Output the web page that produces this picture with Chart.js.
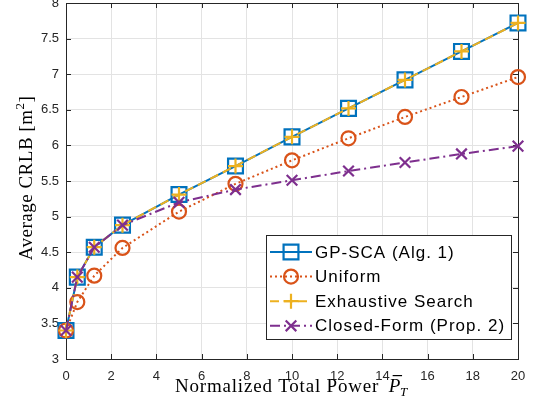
<!DOCTYPE html>
<html>
<head>
<meta charset="utf-8">
<script src="https://cdn.jsdelivr.net/npm/chart.js@4.4.1/dist/chart.umd.min.js"></script>
<style>
    html, body { margin: 0; padding: 0; background: #fff; }
    #wrap { width: 533px; height: 409px; position: relative; }
</style>
</head>
<body>
<div id="wrap"><canvas id="myChart"></canvas></div>
<script>
// normalized total power (x) and the four CRLB curves
const powers = [0, 0.5, 1.25, 2.5, 5, 7.5, 10, 12.5, 15, 17.5, 20]
const gpSca = [3.40, 4.15, 4.57, 4.88, 5.31, 5.71, 6.12, 6.52, 6.92, 7.32, 7.72]
const uniform = [3.40, 3.80, 4.17, 4.56, 5.07, 5.46, 5.79, 6.10, 6.40, 6.68, 6.96]
const exhaustive = [3.40, 4.15, 4.57, 4.88, 5.31, 5.71, 6.12, 6.52, 6.92, 7.32, 7.72]
const closedForm = [3.40, 4.15, 4.57, 4.88, 5.20, 5.38, 5.51, 5.64, 5.76, 5.88, 5.99]
const xTicks = [0, 2, 4, 6, 8, 10, 12, 14, 16, 18, 20]
const yTicks = [3, 3.5, 4, 4.5, 5, 5.5, 6, 6.5, 7, 7.5, 8]

const AXIS = '#262626'
const SERIF = "'Liberation Serif', 'Times New Roman', serif"
const tickFont = { family: "'Liberation Sans', Arial, sans-serif", size: 13 }

const toPoints = vals => vals.map((v, i) => ({ x: powers[i], y: v }))

const series = (label, vals, color, dash, style, radius, order) => ({
    label: label,
    data: toPoints(vals),
    borderColor: color,
    borderWidth: 2,
    borderDash: dash,
    pointStyle: style,
    pointRadius: radius,
    pointHoverRadius: radius,
    pointBorderWidth: 2.2,
    pointBorderColor: color,
    pointBackgroundColor: 'rgba(0,0,0,0)',
    fill: false,
    tension: 0,
    clip: false,
    order: order
})

// frame with inward ticks, titles and the legend box
const boxPlugin = {
    id: 'box',
    beforeDatasetsDraw(chart) {
        const { ctx, chartArea: a, scales: { x, y } } = chart
        ctx.save()
        ctx.strokeStyle = AXIS
        ctx.lineWidth = 1
        ctx.strokeRect(a.left + 0.5, a.top + 0.5, a.right - a.left, a.bottom - a.top)
        ctx.beginPath()
        xTicks.forEach(t => {
            const px = Math.round(x.getPixelForValue(t)) + 0.5
            ctx.moveTo(px, a.bottom); ctx.lineTo(px, a.bottom - 5)
            ctx.moveTo(px, a.top); ctx.lineTo(px, a.top + 5)
        })
        yTicks.forEach(t => {
            const py = Math.round(y.getPixelForValue(t)) + 0.5
            ctx.moveTo(a.left, py); ctx.lineTo(a.left + 5, py)
            ctx.moveTo(a.right, py); ctx.lineTo(a.right - 5, py)
        })
        ctx.stroke()
        ctx.restore()
    },
    afterDraw(chart) {
        const { ctx, chartArea: a } = chart
        ctx.save()
        ctx.fillStyle = '#000'
        ctx.letterSpacing = '0.5px'
        // y title
        ctx.translate(27, 178)
        ctx.rotate(-Math.PI / 2)
        ctx.textAlign = 'left'
        ctx.textBaseline = 'middle'
        const yl = 'Average CRLB [m'
        ctx.font = '19px ' + SERIF
        const wl = ctx.measureText(yl).width
        const wr = ctx.measureText(']').width
        ctx.font = '13px ' + SERIF
        const w2 = ctx.measureText('2').width
        let sx = -(wl + w2 + wr) / 2
        ctx.font = '19px ' + SERIF
        ctx.fillText(yl, sx, 0)
        ctx.fillText(']', sx + wl + w2, 0)
        ctx.font = '13px ' + SERIF
        ctx.fillText('2', sx + wl, -6)
        ctx.restore()

        // x title with P-bar subscript T
        ctx.save()
        ctx.fillStyle = '#000'
        ctx.letterSpacing = '0.8px'
        ctx.textBaseline = 'alphabetic'
        const base = 392
        const main = 'Normalized Total Power '
        ctx.font = '19px ' + SERIF
        const wm = ctx.measureText(main).width + 4
        ctx.font = 'italic 19px ' + SERIF
        const wp = ctx.measureText('P').width
        let tx = 175
        ctx.font = '19px ' + SERIF
        ctx.fillText(main, tx, base)
        ctx.font = 'italic 19px ' + SERIF
        ctx.fillText('P', tx + wm, base)
        ctx.fillRect(tx + wm + 4, base - 17, wp - 3, 1.2)
        ctx.font = 'italic 13px ' + SERIF
        ctx.fillText('T', tx + wm + wp - 1, base + 4)
        ctx.restore()

        // legend box
        ctx.save()
        const lx = 266.5, ly = 235.5, lw = 245, lh = 104
        ctx.fillStyle = '#fff'
        ctx.fillRect(lx, ly, lw, lh)
        ctx.strokeStyle = AXIS
        ctx.lineWidth = 1
        ctx.strokeRect(lx, ly, lw, lh)
        ctx.font = "17px 'Liberation Sans', Arial, sans-serif"
        ctx.letterSpacing = '1px'
        ctx.textBaseline = 'middle'
        chart.data.datasets.forEach((ds, i) => {
            const cy = 252 + i * 24.6
            ctx.save()
            ctx.strokeStyle = ds.borderColor
            ctx.lineWidth = ds.borderWidth
            ctx.setLineDash(ds.borderDash)
            ctx.beginPath()
            ctx.moveTo(270, cy)
            ctx.lineTo(312, cy)
            ctx.stroke()
            ctx.setLineDash([])
            ctx.lineWidth = ds.pointBorderWidth
            ctx.fillStyle = 'rgba(0,0,0,0)'
            Chart.helpers.drawPoint(ctx, {
                pointStyle: ds.pointStyle,
                radius: ds.pointRadius,
                rotation: 0,
                borderWidth: ds.pointBorderWidth
            }, 291, cy)
            ctx.restore()
            ctx.fillStyle = '#000'
            ctx.fillText(ds.label, 315, cy + 1)
        })
        ctx.restore()
    }
}

const ctx = document.getElementById('myChart').getContext('2d')
const chart = new Chart(ctx, {
    type: 'line',
    data: {
        datasets: [
            series('GP-SCA (Alg. 1)', gpSca, '#0072BD', [], 'rect', 10.5, 4),
            series('Uniform', uniform, '#D95319', [2, 3], 'circle', 7, 3),
            series('Exhaustive Search', exhaustive, '#EDB120', [9, 5], 'cross', 7.5, 2),
            series('Closed-Form (Prop. 2)', closedForm, '#7E2F8E', [10, 4, 2, 4], 'crossRot', 7.5, 1)
        ]
    },
    options: {
        responsive: true,
        maintainAspectRatio: false,
        animation: false,
        events: [],
        layout: { autoPadding: false, padding: { top: 3, right: 15, left: 0, bottom: 0 } },
        plugins: {
            legend: { display: false },
            tooltip: { enabled: false }
        },
        scales: {
            x: {
                type: 'linear',
                min: 0,
                max: 20,
                afterBuildTicks: s => { s.ticks = xTicks.map(v => ({ value: v })) },
                afterFit: s => { s.height = 50; s.paddingLeft = 0; s.paddingRight = 0 },
                border: { display: false },
                grid: { color: '#e3e3e3', drawTicks: false, lineWidth: 1 },
                ticks: { color: AXIS, font: tickFont, padding: 10, maxRotation: 0, callback: v => String(v) }
            },
            y: {
                type: 'linear',
                min: 3,
                max: 8,
                afterBuildTicks: s => { s.ticks = yTicks.map(v => ({ value: v })) },
                afterFit: s => { s.width = 66; s.paddingTop = 0; s.paddingBottom = 0 },
                border: { display: false },
                grid: { color: '#e3e3e3', drawTicks: false, lineWidth: 1 },
                ticks: { color: AXIS, font: tickFont, padding: 7, callback: v => String(v) }
            }
        }
    },
    plugins: [boxPlugin]
})
</script>
</body>
</html>
